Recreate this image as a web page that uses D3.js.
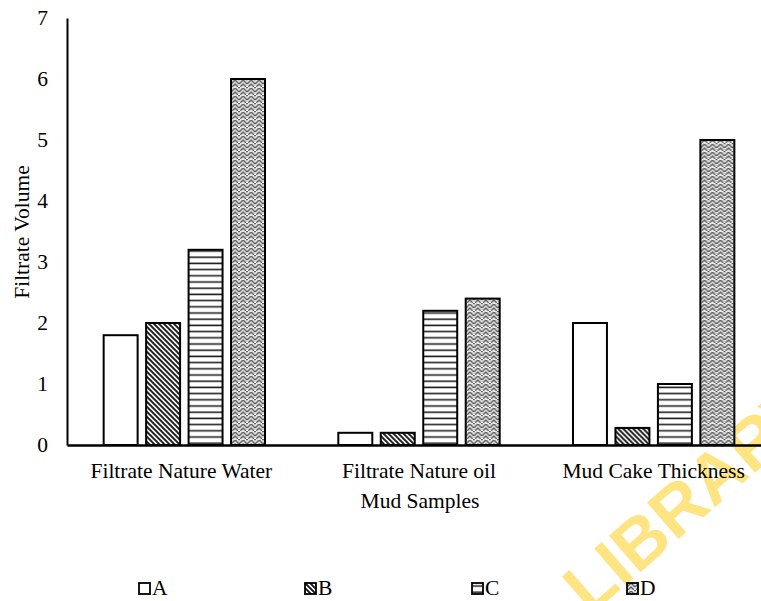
<!DOCTYPE html>
<html>
<head>
<meta charset="utf-8">
<script src="https://cdn.jsdelivr.net/npm/d3@7"></script>
<style>
  html, body { margin: 0; padding: 0; background: #fff; }
  svg { display: block; }
</style>
</head>
<body>
<svg id="chart" width="761" height="601"></svg>
<script>
const categories = ["Filtrate Nature Water", "Filtrate Nature oil", "Mud Cake Thickness"];
const seriesNames = ["A", "B", "C", "D"];
const seriesA = [1.8, 0.2, 2.0];
const seriesB = [2.0, 0.2, 0.28];
const seriesC = [3.2, 2.2, 1.0];
const seriesD = [6.0, 2.4, 5.0];
const yTicks = [0, 1, 2, 3, 4, 5, 6, 7];
const xTitle = "Mud Samples";
const yTitle = "Filtrate Volume";

const seriesValues = { A: seriesA, B: seriesB, C: seriesC, D: seriesD };
const fontFam = "'Liberation Serif', 'Times New Roman', serif";
const fs = 21.5;

const svg = d3.select("#chart");
const defs = svg.append("defs");

// Pattern B: diagonal lines (backslash)
const pB = defs.append("pattern").attr("id", "patB").attr("patternUnits", "userSpaceOnUse")
  .attr("width", 5).attr("height", 5);
pB.append("rect").attr("width", 5).attr("height", 5).attr("fill", "#fff");
pB.append("path").attr("d", "M-1,-1 L6,6 M-1,4 L1,6 M4,-1 L6,1").attr("stroke", "#111").attr("stroke-width", 1.9);

// Pattern C: horizontal lines
const pC = defs.append("pattern").attr("id", "patC").attr("patternUnits", "userSpaceOnUse")
  .attr("width", 8).attr("height", 6.2);
pC.append("rect").attr("width", 8).attr("height", 6.2).attr("fill", "#fff");
pC.append("rect").attr("y", 2.2).attr("width", 8).attr("height", 1.6).attr("fill", "#222");

// Pattern D: grey weave
const pD = defs.append("pattern").attr("id", "patD").attr("patternUnits", "userSpaceOnUse")
  .attr("width", 8).attr("height", 8);
pD.append("rect").attr("width", 8).attr("height", 8).attr("fill", "#e4e4e4");
pD.append("path").attr("d", "M0,4 L4,0 L8,4 M0,8 L4,4 L8,8 M-2,2 L0,0 M8,0 L10,2")
  .attr("stroke", "#5e5e5e").attr("stroke-width", 1.4).attr("fill", "none");
pD.append("path").attr("d", "M0,6 L2,8 M6,8 L8,6")
  .attr("stroke", "#fff").attr("stroke-width", 1).attr("fill", "none");

const fills = { A: "#ffffff", B: "url(#patB)", C: "url(#patC)", D: "url(#patD)" };

// Watermark (behind everything else)
svg.append("text")
  .attr("transform", "translate(590,616) rotate(-41)")
  .attr("font-family", "'Liberation Sans', Arial, sans-serif")
  .attr("font-weight", "bold")
  .attr("font-size", 70)
  .attr("fill", "#ffdf6e")
  .attr("fill-opacity", 0.85)
  .text("LIBRARY");

const xLeft = 67, xRight = 771, yTop = 18, yBottom = 445;

const x0 = d3.scaleBand().domain(categories).range([xLeft, xRight])
  .paddingInner(0.24).paddingOuter(0.12);
const x1 = d3.scaleBand().domain(seriesNames).range([0, x0.bandwidth()]).padding(0.2);
const y = d3.scaleLinear().domain([0, 7]).range([yBottom, yTop]);

// Bars
const groups = svg.append("g").selectAll("g").data(categories).join("g")
  .attr("transform", d => `translate(${x0(d)},0)`);
groups.selectAll("rect")
  .data((d, i) => seriesNames.map(s => ({ s, v: seriesValues[s][i] })))
  .join("rect")
  .attr("x", d => x1(d.s))
  .attr("y", d => y(d.v))
  .attr("width", x1.bandwidth())
  .attr("height", d => y(0) - y(d.v))
  .attr("fill", d => fills[d.s])
  .attr("stroke", "#000")
  .attr("stroke-width", 2);

// Y axis
const yAxis = d3.axisLeft(y).tickValues(yTicks).tickSize(0).tickPadding(19).tickFormat(d3.format("d"));
const gy = svg.append("g").attr("transform", `translate(${xLeft},0)`).call(yAxis);
gy.select(".domain").attr("stroke", "#000").attr("stroke-width", 2);
gy.selectAll("text").attr("font-family", fontFam).attr("font-size", fs).attr("fill", "#000");

// X axis
const xAxis = d3.axisBottom(x0).tickSize(0).tickPadding(18);
const gx = svg.append("g").attr("transform", `translate(0,${yBottom})`).call(xAxis);
gx.select(".domain").attr("stroke", "#000").attr("stroke-width", 2.4);
gx.selectAll("text").attr("font-family", fontFam).attr("font-size", fs).attr("fill", "#000")
  .attr("dx", (d, i) => [-3, 0, 0][i]);

// Axis titles
svg.append("text").attr("x", 420).attr("y", 508).attr("text-anchor", "middle")
  .attr("font-family", fontFam).attr("font-size", fs).text(xTitle);
svg.append("text").attr("transform", "translate(29,232) rotate(-90)").attr("text-anchor", "middle")
  .attr("font-family", fontFam).attr("font-size", fs).text(yTitle);

// Legend
const legendX = [139, 305, 472, 627];
const lg = svg.append("g").selectAll("g").data(seriesNames).join("g")
  .attr("transform", (d, i) => `translate(${legendX[i]},583)`);
lg.append("rect").attr("width", 11).attr("height", 11)
  .attr("fill", d => fills[d]).attr("stroke", "#000").attr("stroke-width", 1.8);
lg.append("text").attr("x", 13).attr("y", 12)
  .attr("font-family", fontFam).attr("font-size", fs).text(d => d);
</script>
</body>
</html>
